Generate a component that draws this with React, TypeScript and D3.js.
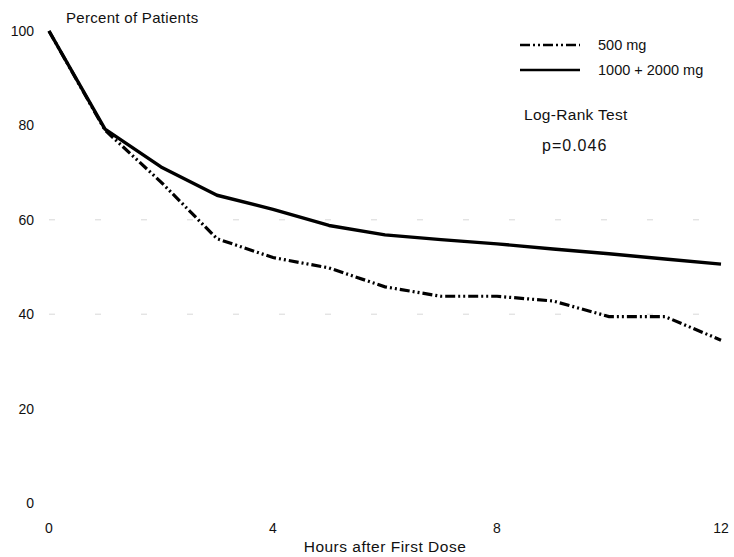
import React from "react";
import * as d3 from "d3";

const hours = [0, 1, 2, 3, 4, 5, 6, 7, 8, 9, 10, 11, 12];
const dose500 = [100, 79, 68, 56, 52, 49.8, 45.8, 43.8, 43.8, 42.8, 39.5, 39.5, 34.5];
const dose1000 = [100, 79.2, 71.2, 65.2, 62.2, 58.8, 56.8, 55.8, 54.9, 53.8, 52.8, 51.7, 50.6];
const xTicks = [0, 4, 8, 12];
const yTicks = [0, 20, 40, 60, 80, 100];
const seriesLabels = ["500 mg", "1000 + 2000 mg"];

const W = 734;
const H = 557;
const font = "'Liberation Sans', Arial, sans-serif";

export default function App() {
  const x = d3.scaleLinear().domain([0, 12]).range([49, 721]);
  const y = d3.scaleLinear().domain([0, 100]).range([503, 31]);
  const line = d3
    .line<number>()
    .x((_, i) => x(hours[i]))
    .y((d) => y(d));
  const dashDot = "10,3,2,3,2,3";
  return (
    <svg
      width={W}
      height={H}
      style={{ position: "absolute", left: 0, top: 0, background: "#fff" }}
      fontFamily={font}
    >
      <rect width={W} height={H} fill="#fff" />
      {[60, 40].map((v) => (
        <line
          key={v}
          x1={x(0)}
          x2={x(12)}
          y1={y(v)}
          y2={y(v)}
          stroke="#d8d8d8"
          strokeWidth={1}
          strokeDasharray="6,40"
        />
      ))}
      <path d={line(dose1000) || ""} fill="none" stroke="#000" strokeWidth={3.4} strokeLinejoin="round" />
      <path
        d={line(dose500) || ""}
        fill="none"
        stroke="#000"
        strokeWidth={3.2}
        strokeDasharray={dashDot}
      />
      {yTicks.map((v) => (
        <text key={v} x={34} y={y(v)} dy="0.35em" textAnchor="end" fontSize={14} fill="#111">
          {v}
        </text>
      ))}
      {xTicks.map((v) => (
        <text key={v} x={x(v)} y={528} dy="0.35em" textAnchor="middle" fontSize={14} fill="#111">
          {v}
        </text>
      ))}
      <text x={66} y={23} fontSize={15} letterSpacing={0.3} fill="#111">
        Percent of Patients
      </text>
      <text x={385} y={552} textAnchor="middle" fontSize={15.5} letterSpacing={0.5} fill="#111">
        Hours after First Dose
      </text>
      <line x1={520} x2={580} y1={45} y2={45} stroke="#000" strokeWidth={2.5} strokeDasharray={dashDot} />
      <text x={598} y={45} dy="0.35em" fontSize={14.5} fill="#111">
        {seriesLabels[0]}
      </text>
      <line x1={520} x2={580} y1={70} y2={70} stroke="#000" strokeWidth={2.5} />
      <text x={598} y={70} dy="0.35em" fontSize={14.5} fill="#111">
        {seriesLabels[1]}
      </text>
      <text x={524} y={115} dy="0.35em" fontSize={15.5} letterSpacing={0.3} fill="#111">
        Log-Rank Test
      </text>
      <text x={542} y={145} dy="0.35em" fontSize={16} letterSpacing={1} fill="#111">
        p=0.046
      </text>
    </svg>
  );
}
